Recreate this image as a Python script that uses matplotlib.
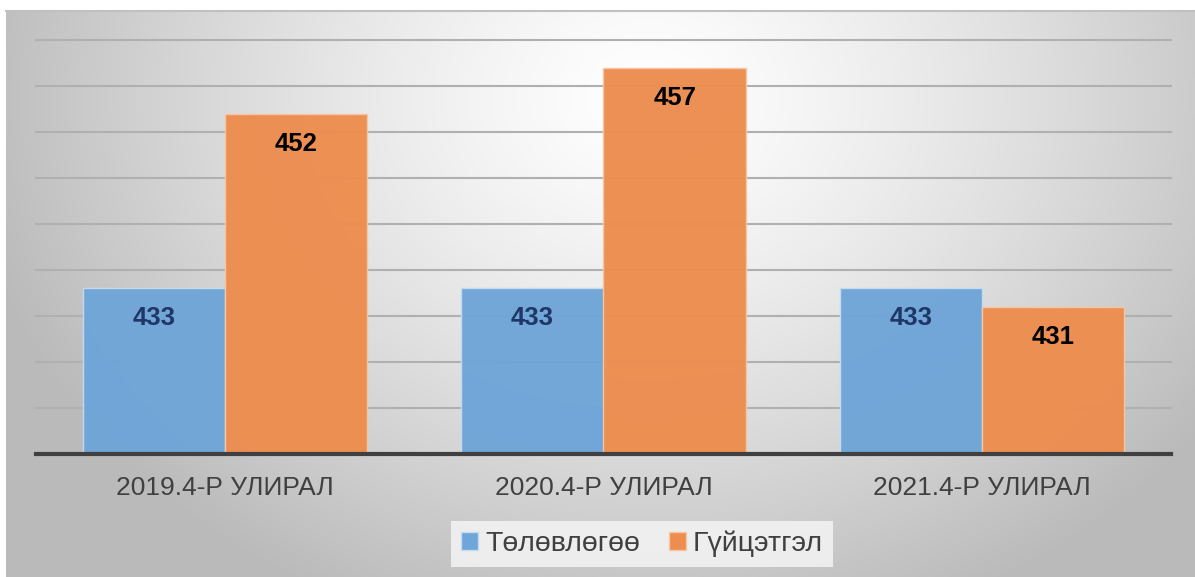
import matplotlib

matplotlib.use("Agg")
import matplotlib.pyplot as plt
import numpy as np
from matplotlib.patches import Patch

plt.rcParams["font.family"] = ["Liberation Sans", "DejaVu Sans"]

# quarterly plan vs. actual
categories = ["2019.4-Р УЛИРАЛ", "2020.4-Р УЛИРАЛ", "2021.4-Р УЛИРАЛ"]
series_names = ["Төлөвлөгөө", "Гүйцэтгэл"]
plan = [433, 433, 433]
actual = [452, 457, 431]

W, H = 1195, 577
BLUE = "#6fa5d8"
ORANGE = "#ed8d4f"

fig = plt.figure(figsize=(W / 100, H / 100), dpi=100)

# radial grey backdrop, lightest near the top centre
bg = fig.add_axes([6 / W, 0, (W - 6) / W, (H - 11) / H])
gx, gy = np.meshgrid(np.linspace(0, 1, 600), np.linspace(0, 1, 300))
dist = np.sqrt(((gx - 0.54) / 0.58) ** 2 + ((gy - 0.15) / 1.0) ** 2)
shade = 1.0 - 0.27 * np.clip(dist, 0, 1) ** 1.3
bg.imshow(np.dstack([shade] * 3), extent=(0, 1, 0, 1), origin="upper", aspect="auto")
bg.set_axis_off()
bg.plot([0, 1], [1, 1], color="#c0c0c0", lw=1.5, transform=bg.transAxes, clip_on=False)

ax = fig.add_axes([36 / W, (H - 454) / H, (1171 - 36) / W, (454 - 40) / H])
ax.patch.set_alpha(0)

x = np.arange(len(categories))
width = 0.376
bars_plan = ax.bar(x - width / 2, plan, width, color=BLUE, alpha=0.97,
                   edgecolor="#c5dcf0", linewidth=1, zorder=3)
bars_actual = ax.bar(x + width / 2, actual, width, color=ORANGE, alpha=0.97,
                     edgecolor="#f6c7a6", linewidth=1, zorder=3)

for bars, vals, col in [(bars_plan, plan, "#1f3768"), (bars_actual, actual, "black")]:
    for rect, v in zip(bars, vals):
        ax.annotate(f"{v}", (rect.get_x() + rect.get_width() / 2, v),
                    xytext=(0, -30), textcoords="offset pixels",
                    ha="center", va="center", fontsize=18.5, fontweight="bold",
                    color=col, zorder=4)

ax.set_ylim(415, 460)
ax.set_xlim(-0.5, len(categories) - 0.5)
for yv in range(420, 461, 5):
    ax.axhline(yv, color="#b0b0b0", lw=1.5, zorder=1, clip_on=False)

for side in ["top", "right", "left"]:
    ax.spines[side].set_visible(False)
ax.spines["bottom"].set_color("#404040")
ax.spines["bottom"].set_linewidth(3)
ax.spines["bottom"].set_zorder(5)

ax.set_yticks([])
ax.set_xticks(x)
ax.set_xticklabels(categories, fontsize=19, color="#404040")
ax.tick_params(axis="x", length=0, pad=16)

handles = [Patch(facecolor=BLUE, edgecolor="#c5dcf0"),
           Patch(facecolor=ORANGE, edgecolor="#f6c7a6")]
leg = fig.legend(handles, series_names, loc="center",
                 bbox_to_anchor=(642 / W, 1 - 544 / H), ncol=2,
                 fontsize=20.5, frameon=True, fancybox=False,
                 handlelength=0.6, handleheight=0.6, handletextpad=0.25,
                 columnspacing=1.0, borderpad=0.35, labelcolor="#404040")
leg.get_frame().set_facecolor("#f7f7f7")
leg.get_frame().set_edgecolor("none")
leg.get_frame().set_alpha(0.8)

fig.savefig("out.png", dpi=100)
